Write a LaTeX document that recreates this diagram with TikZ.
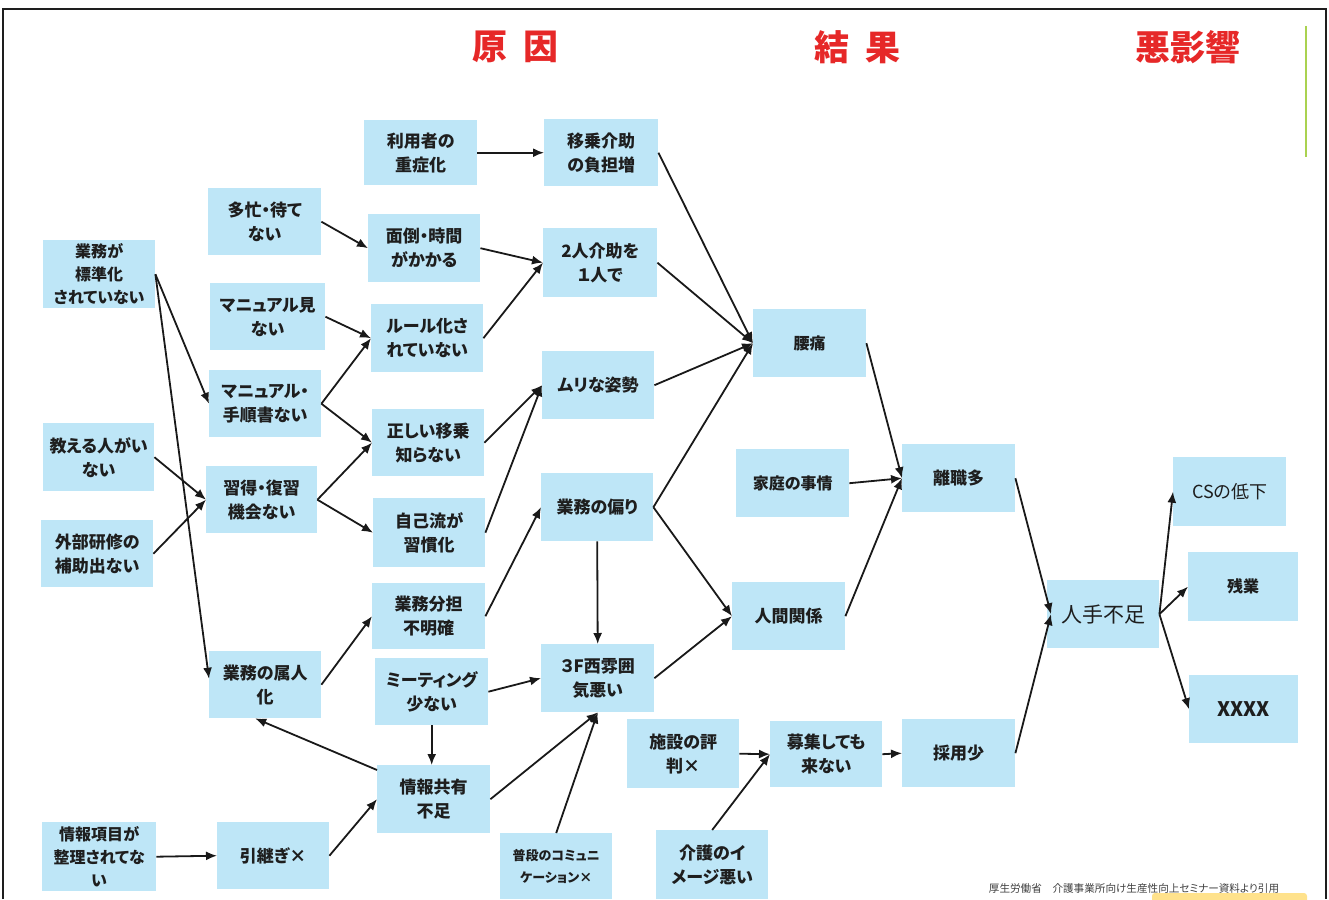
\documentclass[tikz,border=0pt]{standalone}
\usepackage{fontspec}
\setmainfont{Noto Sans CJK JP}[RawFeature=+palt]
\usetikzlibrary{arrows.meta,calc}
\definecolor{boxblue}{RGB}{190,230,247}
\definecolor{titlered}{RGB}{230,40,40}
\definecolor{txt}{RGB}{30,30,30}
\definecolor{frame}{RGB}{30,30,30}
\definecolor{greenline}{RGB}{170,210,80}
\definecolor{yellowbar}{RGB}{255,226,140}
\tikzset{
  box/.style={fill=boxblue, inner sep=0pt, anchor=north west, align=center, text=txt,
    font=\bfseries\fontsize{17}{24}\selectfont},
  sz/.style 2 args={minimum width=#1pt, minimum height=#2pt},
  arr/.style={draw=black!90, line width=1.8pt, -{Latex[length=11pt,width=9pt]}},
  ttl/.style={text=titlered, font=\bfseries\fontsize{35}{40}\selectfont, inner sep=0pt}
}
\begin{document}
\begin{tikzpicture}[x=1pt,y=-1pt]
\useasboundingbox (0,0) rectangle (1329,899);
% frame and decorations
\draw[frame, line width=2.2pt] (3,899) -- (3,9) -- (1326,9) -- (1326,899);
\draw[greenline, line width=1.4pt] (1306,26) -- (1306,157);
\fill[yellowbar, rounded corners=3pt] (1152,893) rectangle (1307,903);
% titles
\node[ttl] (t1) at (515,47) {原\hspace{16pt}因};
\node[ttl] (t2) at (857,47) {結\hspace{16pt}果};
\node[ttl] (t3) at (1188,47) {悪影響};
% boxes
\node[box, sz={113}{65}] (riyo) at (364,120) {利用者の\\重症化};
\node[box, sz={114}{67}] (ijo) at (544,119) {移乗介助\\の負担増};
\node[box, sz={113}{67}] (tabo) at (208,188) {多忙・待て\\ない};
\node[box, sz={112}{68}] (mendo) at (368,214) {面倒・時間\\がかかる};
\node[box, sz={114}{69}] (futari) at (543,228) {2人介助を\\１人で};
\node[box, sz={112}{68}, font=\bfseries\fontsize{16}{23}\selectfont] (hyojun) at (43,240) {業務が\\標準化\\されていない};
\node[box, sz={115}{67}] (minai) at (210,283) {マニュアル見\\ない};
\node[box, sz={112}{68}] (rule) at (371,304) {ルール化さ\\れていない};
\node[box, sz={113}{68}, font=\bfseries\fontsize{16}{23}\selectfont] (yotsu) at (753,309) {腰痛};
\node[box, sz={112}{68}] (muri) at (542,351) {ムリな姿勢};
\node[box, sz={112}{67}] (tejun) at (209,370) {マニュアル・\\手順書ない};
\node[box, sz={112}{67}] (tadashii) at (372,409) {正しい移乗\\知らない};
\node[box, sz={111}{68}] (oshieru) at (43,423) {教える人がい\\ない};
\node[box, sz={113}{68}, font=\bfseries\fontsize{16}{23}\selectfont] (katei) at (736,449) {家庭の事情};
\node[box, sz={113}{68}] (rishoku) at (902,444) {離職多};
\node[box, sz={113}{69}, font=\fontsize{18}{24}\selectfont] (cs) at (1173,457) {CSの低下};
\node[box, sz={111}{67}] (shutoku) at (206,466) {習得・復習\\機会ない};
\node[box, sz={112}{68}] (katayori) at (541,473) {業務の偏り};
\node[box, sz={112}{69}] (jiko) at (373,498) {自己流が\\習慣化};
\node[box, sz={112}{67}] (gaibu) at (41,520) {外部研修の\\補助出ない};
\node[box, sz={110}{69}, font=\bfseries\fontsize{16}{23}\selectfont] (zangyo) at (1188,552) {残業};
\node[box, sz={112}{68}, font=\fontsize{21}{26}\selectfont] (hitode) at (1047,580) {人手不足};
\node[box, sz={113}{68}] (ningen) at (732,582) {人間関係};
\node[box, sz={113}{66}] (buntan) at (372,583) {業務分担\\不明確};
\node[box, sz={113}{68}] (fun) at (541,644) {３F西雰囲\\気悪い};
\node[box, sz={112}{67}] (zokujin) at (209,651) {業務の属人\\化};
\node[box, sz={113}{67}] (meeting) at (375,658) {ミーティング\\少ない};
\node[box, sz={109}{68}, font=\bfseries\fontsize{20}{24}\selectfont] (xxxx) at (1189,675) {XXXX};
\node[box, sz={112}{69}] (hyoban) at (627,719) {施設の評\\判×};
\node[box, sz={112}{66}] (boshu) at (770,721) {募集しても\\来ない};
\node[box, sz={113}{68}] (saiyo) at (902,719) {採用少};
\node[box, sz={113}{68}] (joho) at (377,765) {情報共有\\不足};
\node[box, sz={112}{67}] (hikitsugi) at (217,822) {引継ぎ×};
\node[box, sz={114}{69}, font=\bfseries\fontsize{16}{23}\selectfont] (komoku) at (42,822) {情報項目が\\整理されてな\\い};
\node[box, sz={112}{66}, font=\bfseries\fontsize{13}{22}\selectfont] (fudan) at (500,833) {普段のコミュニ\\ケーション×};
\node[box, sz={112}{69}] (kaigo) at (656,830) {介護のイ\\メージ悪い};
% footer
\node[inner sep=0pt, text=black!75, font=\fontsize{10.6}{12}\selectfont] (src) at (1134,888) {厚生労働省　介護事業所向け生産性向上セミナー資料より引用};
% arrows
\draw[arr] (riyo.east) -- (ijo.west);
\draw[arr] (tabo.east) -- (mendo.west);
\draw[arr] (minai.east) -- (rule.west);
\draw[arr] (tejun.east) -- (rule.west);
\draw[arr] (tejun.east) -- (tadashii.west);
\draw[arr] (hyojun.east) -- (tejun.west);
\draw[arr] (hyojun.east) -- ([yshift=6pt]zokujin.west);
\draw[arr] (oshieru.east) -- (shutoku.west);
\draw[arr] (gaibu.east) -- (shutoku.west);
\draw[arr] (shutoku.east) -- (tadashii.west);
\draw[arr] (shutoku.east) -- (jiko.west);
\draw[arr] (mendo.east) -- (futari.west);
\draw[arr] (rule.east) -- (futari.west);
\draw[arr] (ijo.east) -- (yotsu.west);
\draw[arr] (futari.east) -- (yotsu.west);
\draw[arr] (muri.east) -- (yotsu.west);
\draw[arr] (katayori.east) -- (yotsu.west);
\draw[arr] (tadashii.east) -- (muri.west);
\draw[arr] (jiko.east) -- (muri.west);
\draw[arr] (buntan.east) -- (katayori.west);
\draw[arr] (zokujin.east) -- (buntan.west);
\draw[arr] (katayori.south) -- (fun.north);
\draw[arr] (katayori.east) -- (ningen.west);
\draw[arr] (meeting.east) -- (fun.west);
\draw[arr] (fun.east) -- (ningen.west);
\draw[arr] (meeting.south) -- (meeting.south |- joho.north);
\draw[arr] ([yshift=-5pt]joho.north west) -- ([xshift=-10pt]zokujin.south);
\draw[arr] (hikitsugi.east) -- (joho.west);
\draw[arr] (komoku.east) -- (hikitsugi.west);
\draw[arr] (joho.east) -- (fun.south);
\draw[arr] (fudan.north) -- (fun.south);
\draw[arr] (hyoban.east) -- (boshu.west);
\draw[arr] (kaigo.north) -- (boshu.west);
\draw[arr] (boshu.east) -- (saiyo.west);
\draw[arr] (saiyo.east) -- ([xshift=4pt]hitode.west);
\draw[arr] (rishoku.east) -- ([xshift=4pt]hitode.west);
\draw[arr] (yotsu.east) -- (rishoku.west);
\draw[arr] (katei.east) -- (rishoku.west);
\draw[arr] (ningen.east) -- (rishoku.west);
\draw[arr] (hitode.east) -- (cs.west);
\draw[arr] (hitode.east) -- (zangyo.west);
\draw[arr] (hitode.east) -- (xxxx.west);
\end{tikzpicture}
\end{document}
